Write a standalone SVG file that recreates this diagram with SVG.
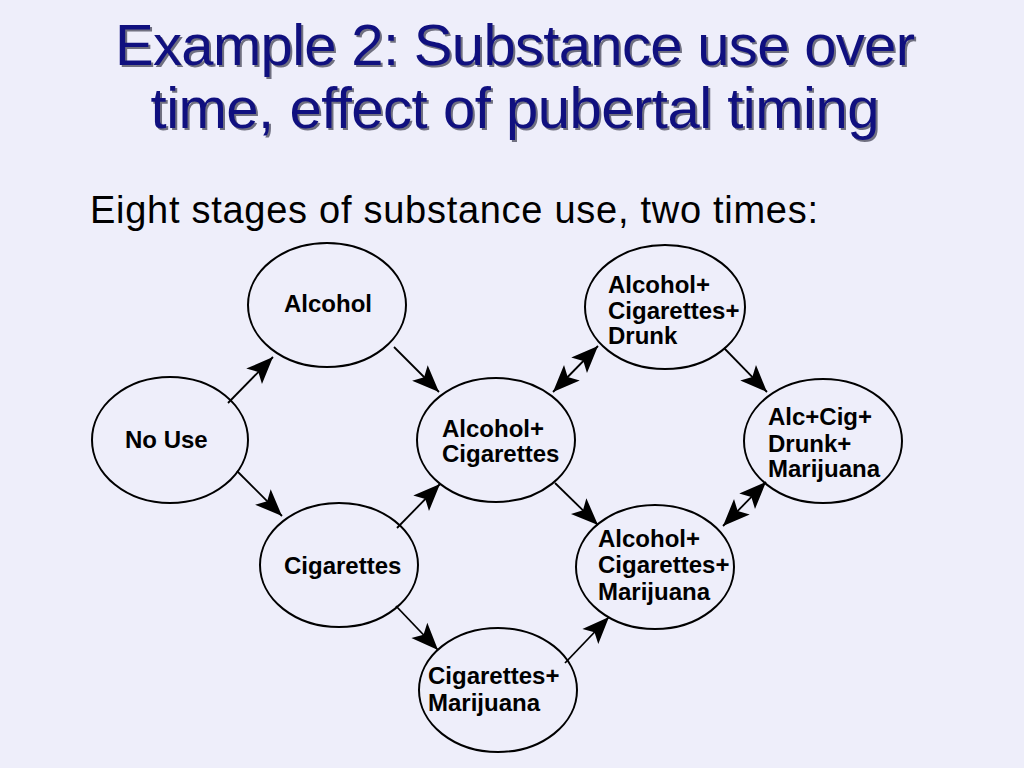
<svg xmlns="http://www.w3.org/2000/svg" width="1024" height="768" viewBox="0 0 1024 768">
<defs>
<style>
.title{font-family:"Liberation Sans",Arial,sans-serif;font-size:58px;text-anchor:middle}
.sub{font-family:"Liberation Sans",Arial,sans-serif;font-size:38px;fill:#000}
.node ellipse{fill:none;stroke:#000;stroke-width:2}
.node text{font-family:"Liberation Sans",Arial,sans-serif;font-size:24px;font-weight:bold;fill:#000}
.conn line{stroke:#000;stroke-width:1.8}
.one{marker-end:url(#ah)}
.two{marker-end:url(#ah);marker-start:url(#ah)}
</style>
<marker id="ah" viewBox="-30 -13 32 26" refX="0" refY="0" markerWidth="32" markerHeight="26" markerUnits="userSpaceOnUse" orient="auto-start-reverse">
<path d="M0,0 L-27,-11 L-21,0 L-27,11 Z" fill="#000"/>
</marker>
</defs>
<rect width="1024" height="768" fill="#EEEEFA"/>
<g id="title">
<text class="title" x="517" y="67" fill="#707080" textLength="800">Example 2: Substance use over</text>
<text class="title" x="517" y="130" fill="#707080" textLength="729">time, effect of pubertal timing</text>
<text class="title" x="515" y="65" fill="#10107F" textLength="800">Example 2: Substance use over</text>
<text class="title" x="515" y="128" fill="#10107F" textLength="729">time, effect of pubertal timing</text>
</g>
<text class="sub" x="90" y="223" textLength="728">Eight stages of substance use, two times:</text>
<g id="connectors" class="conn">
<line class="one" x1="228" y1="403" x2="273" y2="357"/>
<line class="one" x1="394" y1="347" x2="439" y2="392"/>
<line class="one" x1="237" y1="471" x2="282" y2="516"/>
<line class="one" x1="397" y1="528" x2="440" y2="484"/>
<line class="one" x1="396" y1="606" x2="438" y2="650"/>
<line class="one" x1="565" y1="663" x2="609" y2="617"/>
<line class="one" x1="555" y1="483" x2="598" y2="525"/>
<line class="two" x1="553" y1="392" x2="598" y2="346"/>
<line class="one" x1="724" y1="348" x2="767" y2="392"/>
<line class="two" x1="723" y1="526" x2="766" y2="482"/>
</g>
<g id="node-alcohol" class="node">
<ellipse cx="327" cy="305" rx="79" ry="62"/>
<text x="284" y="312">Alcohol</text>
</g>
<g id="node-nouse" class="node">
<ellipse cx="170" cy="440" rx="78" ry="63"/>
<text x="125" y="448">No Use</text>
</g>
<g id="node-cigarettes" class="node">
<ellipse cx="339" cy="565" rx="79" ry="62"/>
<text x="284" y="574">Cigarettes</text>
</g>
<g id="node-alc-cig" class="node">
<ellipse cx="496" cy="440" rx="79" ry="62"/>
<text x="442" y="437">Alcohol+</text>
<text x="442" y="462">Cigarettes</text>
</g>
<g id="node-alc-cig-drunk" class="node">
<ellipse cx="665" cy="307" rx="80" ry="62"/>
<text x="608" y="293">Alcohol+</text>
<text x="608" y="319">Cigarettes+</text>
<text x="608" y="344">Drunk</text>
</g>
<g id="node-alc-cig-drunk-mar" class="node">
<ellipse cx="823" cy="441" rx="79" ry="62"/>
<text x="768" y="425">Alc+Cig+</text>
<text x="768" y="452">Drunk+</text>
<text x="768" y="477">Marijuana</text>
</g>
<g id="node-alc-cig-mar" class="node">
<ellipse cx="655" cy="567" rx="79" ry="62"/>
<text x="598" y="547">Alcohol+</text>
<text x="598" y="573">Cigarettes+</text>
<text x="598" y="600">Marijuana</text>
</g>
<g id="node-cig-mar" class="node">
<ellipse cx="498" cy="690" rx="79" ry="62"/>
<text x="428" y="684">Cigarettes+</text>
<text x="428" y="711">Marijuana</text>
</g>
</svg>
